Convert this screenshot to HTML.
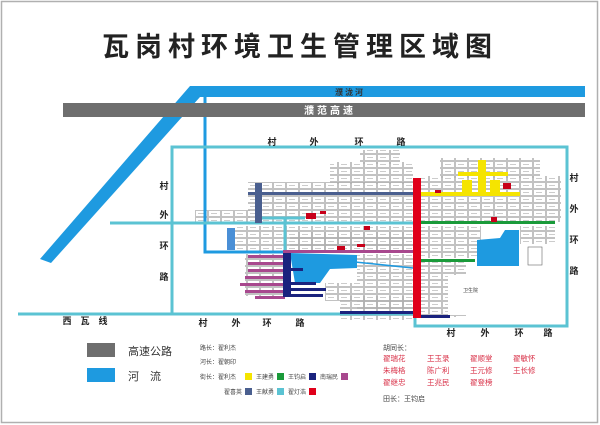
<!DOCTYPE html>
<html><head><meta charset="utf-8"><style>
html,body{margin:0;padding:0;background:#fff}
svg{display:block}
text{font-family:"Liberation Sans","Noto Sans CJK SC",sans-serif}
</style></head><body>
<svg width="600" height="425" viewBox="0 0 600 425" xmlns="http://www.w3.org/2000/svg">
<defs>
<pattern id="blk" width="13" height="7" patternUnits="userSpaceOnUse">
<rect x="0.5" y="0.5" width="12" height="6" fill="#fff" stroke="#9a9a9a" stroke-width="0.6"/>
<rect x="3" y="3" width="6" height="1" fill="#ccc"/>
</pattern>
</defs>
<rect x="1.5" y="1.5" width="596" height="421" fill="#fff" stroke="#b0b0b0" stroke-width="1.5"/>
<text x="300" y="56" font-size="27" font-weight="bold" text-anchor="middle" letter-spacing="6" fill="#222">瓦岗村环境卫生管理区域图</text>

<!-- blocks -->
<g fill="url(#blk)">
<rect x="248" y="182" width="165" height="40"/>
<rect x="330" y="162" width="83" height="22"/>
<rect x="360" y="150" width="40" height="14"/>
<rect x="195" y="210" width="55" height="12"/>
<rect x="235" y="226" width="178" height="25"/>
<rect x="290" y="232" width="123" height="18"/>
<rect x="245" y="254" width="40" height="42"/>
<rect x="357" y="254" width="56" height="55"/>
<rect x="340" y="296" width="73" height="15"/>
<rect x="325" y="283" width="32" height="18"/>
<rect x="421" y="176" width="140" height="46"/>
<rect x="440" y="158" width="100" height="20"/>
<rect x="421" y="226" width="60" height="32"/>
<rect x="421" y="262" width="45" height="55"/>
<rect x="520" y="226" width="35" height="18"/>
<rect x="340" y="315" width="75" height="5"/>
</g>
<rect x="448" y="275" width="30" height="40" fill="#fff"/>
<text x="463" y="292" font-size="5" fill="#444">卫生院</text>
<rect x="528" y="247" width="14" height="18" fill="#fff" stroke="#666" stroke-width="0.6"/>

<!-- river -->
<polygon points="190,86 585,86 585,97 200,97 51,263 40,259" fill="#1e9ae0"/>
<text x="350" y="95" font-size="8" font-weight="bold" text-anchor="middle" fill="#333" letter-spacing="2">濮泷河</text>
<polyline points="205,97 205,252 285,252" fill="none" stroke="#1e9ae0" stroke-width="3"/>
<line x1="355" y1="262" x2="413" y2="268" stroke="#1e9ae0" stroke-width="1.5"/>
<polygon points="290,253 357,255 357,268 330,269 320,283 295,283" fill="#1e9ae0"/>
<polygon points="477,240 500,238 505,230 519,230 519,266 477,266" fill="#1e9ae0"/>
<rect x="227" y="228" width="8" height="22" fill="#4a8fd6"/>

<!-- highway -->
<rect x="63" y="103" width="522" height="14" fill="#6e6e6e"/>
<text x="330" y="114" font-size="10" font-weight="bold" text-anchor="middle" fill="#fff" letter-spacing="3">濮范高速</text>

<!-- ring road -->
<g fill="none" stroke="#5bc3d3" stroke-width="3">
<polyline points="413,314 172,314 172,147 567,147 567,326 415,326 415,314"/>
<line x1="18" y1="314" x2="172" y2="314"/>
<line x1="110" y1="223" x2="413" y2="223"/>
<line x1="262" y1="218" x2="305" y2="218"/>
<line x1="285" y1="218" x2="285" y2="250"/>
</g>

<!-- streets -->
<rect x="255" y="183" width="7" height="40" fill="#4a5f8f"/>
<rect x="248" y="192" width="165" height="3" fill="#4a5f8f"/>
<rect x="420" y="192" width="100" height="4" fill="#f5e400"/>
<rect x="478" y="160" width="8" height="36" fill="#f5e400"/>
<rect x="458" y="172" width="50" height="4" fill="#f5e400"/>
<rect x="462" y="180" width="10" height="12" fill="#f5e400"/>
<rect x="490" y="180" width="10" height="12" fill="#f5e400"/>
<rect x="420" y="221" width="135" height="3" fill="#1a9a3a"/>
<rect x="420" y="259" width="55" height="3" fill="#1a9a3a"/>
<rect x="283" y="250" width="130" height="3" fill="#a8488e"/>
<g fill="#a8488e">
<rect x="248" y="255" width="37" height="3"/><rect x="248" y="262" width="37" height="3"/>
<rect x="248" y="269" width="37" height="3"/><rect x="245" y="276" width="40" height="3"/>
<rect x="240" y="283" width="45" height="3"/><rect x="245" y="290" width="40" height="3"/>
<rect x="255" y="296" width="30" height="3"/>
</g>
<g fill="#1a237e">
<rect x="283" y="253" width="8" height="44"/>
<rect x="291" y="268" width="12" height="3"/><rect x="291" y="282" width="25" height="3"/>
<rect x="291" y="288" width="35" height="3"/><rect x="291" y="294" width="32" height="3"/>
<rect x="340" y="311" width="73" height="3"/><rect x="420" y="315" width="30" height="3"/>
</g>
<rect x="413" y="178" width="8" height="140" fill="#e0001a"/>
<g fill="#c8001a">
<rect x="306" y="213" width="10" height="6"/><rect x="364" y="226" width="6" height="4"/>
<rect x="337" y="246" width="8" height="4"/><rect x="320" y="211" width="6" height="3"/>
<rect x="435" y="190" width="6" height="3"/><rect x="503" y="183" width="8" height="6"/>
<rect x="491" y="217" width="6" height="5"/><rect x="357" y="244" width="8" height="3"/>
</g>

<!-- ring labels -->
<g font-size="9" font-weight="bold" fill="#222" text-anchor="middle">
<text x="272" y="145">村</text><text x="314" y="145">外</text><text x="359" y="145">环</text><text x="401" y="145">路</text>
<text x="164" y="189">村</text><text x="164" y="218">外</text><text x="164" y="249">环</text><text x="164" y="280">路</text>
<text x="574" y="181">村</text><text x="574" y="212">外</text><text x="574" y="243">环</text><text x="574" y="274">路</text>
<text x="203" y="326">村</text><text x="236" y="326">外</text><text x="267" y="326">环</text><text x="300" y="326">路</text>
<text x="451" y="336">村</text><text x="485" y="336">外</text><text x="519" y="336">环</text><text x="548" y="336">路</text>
<text x="67" y="324">西</text><text x="85" y="324">瓦</text><text x="103" y="324">线</text>
</g>

<!-- legend -->
<rect x="87" y="343" width="28" height="14" fill="#6e6e6e"/>
<text x="128" y="355" font-size="11" fill="#333">高速公路</text>
<rect x="87" y="368" width="28" height="14" fill="#1e9ae0"/>
<text x="128" y="380" font-size="11" fill="#333">河　流</text>
<g font-size="6" fill="#444">
<text x="200" y="350">路长：翟利杰</text>
<text x="200" y="364">河长：翟朝印</text>
<text x="200" y="379">街长：翟利杰</text>
<rect x="245" y="373" width="7" height="7" fill="#f5e400"/>
<text x="256" y="379">王建勇</text><rect x="277" y="373" width="7" height="7" fill="#1a9a3a"/>
<text x="288" y="379">王钧启</text><rect x="309" y="373" width="7" height="7" fill="#1a237e"/>
<text x="320" y="379">南瑞民</text><rect x="341" y="373" width="7" height="7" fill="#a8488e"/>
<text x="224" y="394">翟喜英</text><rect x="245" y="388" width="7" height="7" fill="#4a5f8f"/>
<text x="256" y="394">王献勇</text><rect x="277" y="388" width="7" height="7" fill="#5bc3d3"/>
<text x="288" y="394">翟灯浩</text><rect x="309" y="388" width="7" height="7" fill="#e0001a"/>
</g>
<text x="383" y="350" font-size="7" fill="#444">胡同长：</text>
<g font-size="7.5" fill="#d9334a">
<text x="383" y="361">翟瑞花</text><text x="427" y="361">王玉录</text><text x="470" y="361">翟顺堂</text><text x="513" y="361">翟敏怀</text>
<text x="383" y="373">朱梅格</text><text x="427" y="373">陈广利</text><text x="470" y="373">王元修</text><text x="513" y="373">王长修</text>
<text x="383" y="385">翟继忠</text><text x="427" y="385">王兆民</text><text x="470" y="385">翟登榜</text>
</g>
<text x="383" y="401" font-size="7" fill="#444">田长：王钧启</text>
</svg>
</body></html>
